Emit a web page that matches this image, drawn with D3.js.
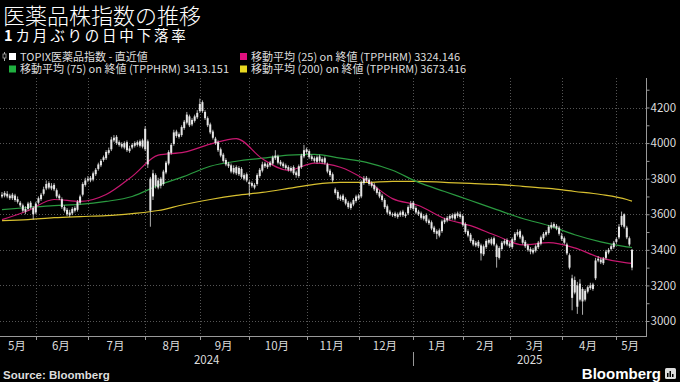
<!DOCTYPE html>
<html><head><meta charset="utf-8">
<script src="https://cdn.jsdelivr.net/npm/d3@7"></script>
<style>
html,body{margin:0;padding:0;background:#000;}
svg{display:block;}
</style></head>
<body>
<svg id="chart" width="680" height="382"></svg>
<script>
// ---- data ----
const title = "医薬品株指数の推移";
const subtitleNum = "1";
const subtitleText = "カ月ぶりの日中下落率";
const legendLabels = ["TOPIX医薬品指数 - 直近値", "移動平均 (25) on 終値 (TPPHRM)  3324.146", "移動平均 (75) on 終値 (TPPHRM) 3413.151", "移動平均 (200) on 終値 (TPPHRM) 3673.416"];
const monthLabels = ["5月","6月","7月","8月","9月","10月","11月","12月","1月","2月","3月","4月","5月"];
const monthStart = [0,13,33,55,76,95,117,137,158,177,195,215,236];
const yearLabels = ["2024","2025"];
const yearStart = [0,158];
const yTicks = [3000,3200,3400,3600,3800,4000,4200];

const open = [3700,3705,3715,3705,3690,3705,3685,3665,3650,3615,3630,3665,3635,
3610,3665,3685,3715,3745,3775,3745,3765,3735,3705,3685,3640,3625,3595,3605,3635,3625,3665,3710,3765,
3790,3805,3795,3825,3855,3875,3905,3915,3945,3965,4015,4035,4005,3995,3975,4005,3955,3975,3985,4005,3985,4015,
3965,4010,3800,3700,3820,3750,3800,3770,3835,3885,3945,3995,4065,4035,4045,4085,4115,4150,4105,4125,4145,
4180,4230,4175,4140,4105,4065,4025,4005,3965,3935,3905,3885,3875,3835,3865,3825,3855,3800,3825,
3780,3775,3765,3770,3815,3845,3885,3865,3875,3885,3915,3925,3895,3885,3875,3865,3845,3865,3835,3815,3865,3925,
3965,3955,3925,3915,3895,3925,3895,3915,3880,3845,3825,3740,3725,3685,3705,3685,3665,3635,3655,3675,
3705,3700,3775,3805,3795,3775,3765,3745,3725,3705,3680,3645,3615,3595,3605,3585,3595,3615,3590,3605,3635,
3665,3635,3615,3605,3575,3595,3565,3555,3525,3505,3480,3505,3555,3565,3575,3595,3575,3605,3585,
3590,3545,3505,3485,3455,3425,3445,3425,3375,3415,3455,3435,3465,3425,3355,3405,3435,3455,
3435,3415,3455,3485,3505,3475,3445,3425,3405,3385,3395,3415,3435,3465,3485,3495,3525,3545,3535,3525,
3480,3465,3430,3370,3240,3160,3200,3120,3180,3120,3165,3185,3205,3240,3350,3345,3325,3355,3385,3405,3415,
3445,3470,3540,3600,3525,3465,3400];
const high = [3725,3730,3730,3715,3720,3715,3700,3675,3660,3645,3670,3675,3645,
3670,3700,3720,3755,3790,3785,3775,3775,3745,3715,3695,3650,3635,3625,3640,3645,3680,3710,3780,3805,
3815,3815,3840,3860,3890,3910,3930,3960,3975,4035,4045,4045,4015,4005,4010,4015,3985,4000,4010,4015,4020,4025,
4095,4020,3810,3850,3830,3805,3810,3850,3900,3960,4000,4075,4075,4060,4100,4130,4175,4160,4140,4160,4185,
4250,4240,4185,4150,4115,4075,4035,4015,3975,3945,3915,3895,3885,3875,3875,3870,3865,3830,3835,
3790,3785,3775,3830,3860,3895,3895,3890,3900,3930,3960,3935,3905,3895,3885,3875,3870,3875,3845,3880,3940,3990,
3975,3965,3935,3925,3930,3935,3920,3925,3890,3855,3835,3750,3735,3710,3715,3695,3675,3670,3690,3710,
3715,3790,3815,3815,3805,3785,3775,3755,3735,3715,3690,3655,3625,3610,3615,3610,3620,3625,3610,3650,3675,
3675,3645,3625,3615,3600,3605,3575,3565,3535,3515,3520,3570,3580,3590,3600,3605,3610,3615,3615,
3600,3555,3515,3495,3465,3450,3455,3435,3430,3460,3465,3470,3475,3435,3420,3450,3460,3465,
3445,3470,3500,3515,3515,3485,3455,3435,3415,3410,3430,3450,3480,3500,3510,3540,3555,3555,3545,3535,
3495,3475,3440,3380,3260,3250,3220,3235,3190,3180,3200,3215,3215,3355,3365,3355,3360,3400,3410,3430,3450,
3470,3545,3615,3605,3535,3475,3405];
const low = [3690,3695,3690,3680,3680,3670,3660,3640,3610,3600,3620,3630,3570,
3600,3655,3675,3705,3735,3740,3735,3730,3690,3680,3630,3610,3590,3585,3595,3610,3615,3655,3700,3755,
3780,3780,3785,3815,3845,3865,3895,3905,3935,3955,4005,3990,3980,3970,3965,3950,3945,3965,3975,3980,3975,3970,
3955,3860,3530,3680,3745,3740,3745,3760,3825,3875,3935,3985,4030,4025,4035,4075,4105,4090,4095,4115,4135,
4170,4170,4130,4090,4050,4020,3990,3950,3920,3890,3870,3860,3830,3825,3820,3815,3800,3790,3780,
3700,3750,3740,3760,3805,3835,3860,3855,3865,3875,3905,3880,3870,3860,3850,3840,3835,3820,3805,3805,3855,3915,
3940,3910,3900,3890,3885,3890,3885,3880,3830,3810,3780,3710,3680,3675,3670,3650,3630,3625,3645,3665,
3680,3690,3765,3780,3760,3750,3730,3710,3690,3670,3630,3600,3590,3585,3580,3575,3585,3585,3580,3595,3625,
3620,3600,3590,3570,3565,3550,3540,3510,3490,3460,3470,3495,3545,3555,3565,3570,3565,3580,3575,
3530,3490,3470,3440,3420,3415,3410,3340,3365,3405,3430,3425,3420,3300,3345,3395,3425,3420,
3410,3405,3445,3475,3460,3430,3410,3390,3375,3375,3385,3405,3425,3455,3475,3485,3515,3520,3510,3480,
3450,3430,3370,3290,3060,3150,3040,3110,3035,3110,3155,3175,3170,3230,3330,3320,3315,3345,3375,3395,3405,
3435,3460,3530,3520,3460,3420,3285];
const close = [3710,3720,3700,3690,3710,3680,3670,3650,3620,3630,3660,3640,3600,
3660,3690,3710,3740,3770,3750,3760,3740,3700,3690,3640,3620,3600,3610,3630,3620,3670,3700,3770,3790,
3800,3790,3830,3850,3880,3900,3920,3950,3960,4020,4030,4000,3990,3980,4000,3960,3970,3990,4000,3990,4010,3980,
4080,3880,3620,3830,3760,3790,3760,3840,3890,3950,3990,4060,4040,4050,4090,4120,4160,4100,4130,4150,4170,
4220,4180,4140,4100,4060,4030,4000,3960,3930,3900,3880,3870,3840,3860,3830,3860,3810,3820,3790,
3770,3760,3750,3820,3850,3880,3870,3880,3890,3920,3930,3890,3880,3870,3860,3850,3860,3830,3820,3870,3930,3960,
3950,3920,3910,3900,3920,3900,3910,3890,3840,3820,3790,3720,3690,3700,3680,3660,3640,3660,3680,3700,
3690,3780,3800,3790,3770,3760,3740,3720,3700,3680,3640,3610,3600,3600,3590,3600,3610,3595,3600,3640,3660,
3630,3610,3600,3580,3590,3560,3550,3520,3500,3490,3510,3560,3570,3580,3590,3580,3600,3590,3600,
3540,3500,3480,3450,3430,3440,3420,3380,3420,3450,3440,3460,3430,3360,3410,3440,3450,3430,
3420,3460,3490,3500,3470,3440,3420,3400,3390,3400,3420,3440,3470,3490,3500,3530,3540,3530,3520,3490,
3460,3440,3380,3300,3130,3230,3080,3210,3110,3170,3190,3200,3180,3340,3340,3330,3350,3390,3400,3420,3440,
3460,3530,3590,3530,3470,3430,3300];

const maIdx = [0,10,20,30,40,50,60,70,80,90,100,110,120,130,140,150,160,170,180,190,200,210,220,230,240,242];
const ma25 = [3570,3620,3683,3672,3711,3813,3932,3949,3994,4025,3912,3847,3887,3864,3790,3688,3649,3576,3536,3479,3428,3440,3411,3355,3327,3324.146];
const ma75 = [3626,3638,3649,3655,3672,3700,3762,3813,3870,3898,3915,3932,3937,3915,3892,3847,3779,3728,3677,3626,3576,3536,3485,3445,3417,3413.151];
const ma200 = [3564,3570,3581,3587,3592,3604,3621,3655,3683,3706,3723,3745,3768,3779,3779,3785,3785,3779,3773,3768,3757,3745,3728,3711,3683,3673.416];

// ---- layout ----
const svg = d3.select("#chart");
const plotL = 0, plotR = 646, plotT = 78, plotB = 336;
const x = d3.scaleLinear().domain([0, 242]).range([2, 632]);
const y = d3.scaleLinear().domain([3000, 4200]).range([321, 107.5]);
const FONT = "'Noto Sans CJK JP','Noto Sans',sans-serif";

svg.append("rect").attr("width",680).attr("height",382).attr("fill","#000");

// title
svg.append("text").attr("x",3).attr("y",23.5).attr("fill","#fff")
  .style("font-family",FONT).style("font-weight","300").style("font-size","22px").text(title);
const st = svg.append("text").attr("x",4).attr("y",40.5).attr("fill","#fff")
  .style("font-family",FONT).style("font-size","14.5px");
st.append("tspan").style("font-weight","bold").text(subtitleNum);
st.append("tspan").attr("dx",3).style("letter-spacing","2.8px").text(subtitleText);

// legend
const legColors = ["#ffffff","#e0107e","#20b040","#e8d820"];
const legPos = [[9,57],[240,57],[9,69.5],[240,69.5]];
legendLabels.forEach((t,i)=>{
  const [lx,ly] = legPos[i];
  svg.append("rect").attr("x",lx).attr("y",ly-4).attr("width",7).attr("height",7).attr("fill",legColors[i]);
  svg.append("text").attr("x",lx+11).attr("y",ly+3.8).attr("fill","#ddd")
    .style("font-family",FONT).style("font-size","11px").text(t);
});
// small candle icon
svg.append("line").attr("x1",4.5).attr("x2",4.5).attr("y1",52).attr("y2",61).attr("stroke","#aaa").attr("stroke-width",1);
svg.append("rect").attr("x",3).attr("y",54).attr("width",3).attr("height",4).attr("fill","#000").attr("stroke","#aaa").attr("stroke-width",0.8);

// gridlines
const g = svg.append("g");
g.selectAll(".hg").data(yTicks).join("line")
  .attr("x1",plotL).attr("x2",plotR).attr("y1",d=>Math.round(y(d))+0.5).attr("y2",d=>Math.round(y(d))+0.5)
  .attr("stroke","#555").attr("stroke-width",1).attr("stroke-dasharray","1,2");
g.selectAll(".vg").data(monthStart.slice(1)).join("line")
  .attr("x1",d=>Math.round(x(d))+0.5).attr("x2",d=>Math.round(x(d))+0.5).attr("y1",plotT).attr("y2",plotB)
  .attr("stroke","#555").attr("stroke-width",1).attr("stroke-dasharray","1,2");

// MA lines
const maLine = arr => d3.line().x((d,i)=>x(maIdx[i])).y(d=>y(d)).curve(d3.curveMonotoneX)(arr);
svg.append("path").attr("d",maLine(ma200)).attr("fill","none").attr("stroke","#d8c030").attr("stroke-width",1.2);
svg.append("path").attr("d",maLine(ma75)).attr("fill","none").attr("stroke","#2a9a40").attr("stroke-width",1.2);
svg.append("path").attr("d",maLine(ma25)).attr("fill","none").attr("stroke","#c81870").attr("stroke-width",1.2);

// candles
const idx = d3.range(close.length);
const cg = svg.append("g");
cg.selectAll("line").data(idx).join("line")
  .attr("x1",i=>x(i)).attr("x2",i=>x(i)).attr("y1",i=>y(high[i])).attr("y2",i=>y(low[i]))
  .attr("stroke","#d8d8d8").attr("stroke-width",0.8);
cg.selectAll("rect").data(idx).join("rect")
  .attr("x",i=>x(i)-1).attr("width",2)
  .attr("y",i=>y(Math.max(open[i],close[i])))
  .attr("height",i=>Math.max(1,Math.abs(y(open[i])-y(close[i]))))
  .attr("fill","#e6e6e6");

// right axis
svg.append("line").attr("x1",plotR+0.5).attr("x2",plotR+0.5).attr("y1",plotT).attr("y2",plotB)
  .attr("stroke","#999").attr("stroke-width",1);
const yAxis = d3.axisRight(y).tickValues(d3.range(2900,4301,100)).tickSize(3)
  .tickFormat(d=> yTicks.includes(d) ? d : "");
const ya = svg.append("g").attr("transform",`translate(${plotR+0.5},0)`).call(yAxis);
ya.select(".domain").remove();
ya.selectAll(".tick line").attr("stroke","#999");
ya.selectAll(".tick text").attr("fill","#ddd").attr("x",4).style("font-family",FONT).style("font-size","11.5px");
ya.selectAll(".tick").filter(d=> y(d) < plotT || y(d) > plotB).remove();

// x axis
svg.append("line").attr("x1",plotL).attr("x2",plotR+1).attr("y1",plotB+0.5).attr("y2",plotB+0.5)
  .attr("stroke","#999").attr("stroke-width",1);
svg.selectAll(".xt").data(monthStart.slice(1)).join("line")
  .attr("x1",d=>Math.round(x(d))+0.5).attr("x2",d=>Math.round(x(d))+0.5).attr("y1",plotB+1).attr("y2",plotB+4)
  .attr("stroke","#999");
const bounds = [plotL].concat(monthStart.slice(1).map(d=>x(d))).concat([plotR]);
monthLabels.forEach((m,i)=>{
  svg.append("text").attr("x",(bounds[i]+bounds[i+1])/2 - 1).attr("y",350).attr("text-anchor","middle")
    .attr("fill","#ddd").style("font-family",FONT).style("font-size","11.5px").text(m);
});
const yb = [plotL, x(yearStart[1]), plotR];
yearLabels.forEach((t,i)=>{
  svg.append("text").attr("x",(yb[i]+yb[i+1])/2).attr("y",364).attr("text-anchor","middle")
    .attr("fill","#ddd").style("font-family",FONT).style("font-size","11.5px").text(t);
});
svg.append("line").attr("x1",Math.round(x(yearStart[1]))+0.5).attr("x2",Math.round(x(yearStart[1]))+0.5)
  .attr("y1",352).attr("y2",366).attr("stroke","#999");

// footer
svg.append("text").attr("x",3).attr("y",379).attr("fill","#ddd")
  .style("font-family","'Liberation Sans',Arial,sans-serif").style("font-weight","bold").style("font-size","11.5px")
  .text("Source: Bloomberg");
svg.append("text").attr("x",661).attr("y",379).attr("text-anchor","end").attr("fill","#fff")
  .style("font-family","'Liberation Sans',Arial,sans-serif").style("font-weight","bold").style("font-size","15px")
  .text("Bloomberg");
const lg = svg.append("g").attr("transform","translate(665,368)");
lg.append("rect").attr("width",11).attr("height",11).attr("rx",1.5).attr("fill","#ddd");
[[2,5,1.5,4],[4.5,3,1.5,6],[7,6,1.5,3]].forEach(b=>lg.append("rect").attr("x",b[0]).attr("y",b[1]).attr("width",b[2]).attr("height",b[3]).attr("fill","#000"));
</script>
</body></html>
